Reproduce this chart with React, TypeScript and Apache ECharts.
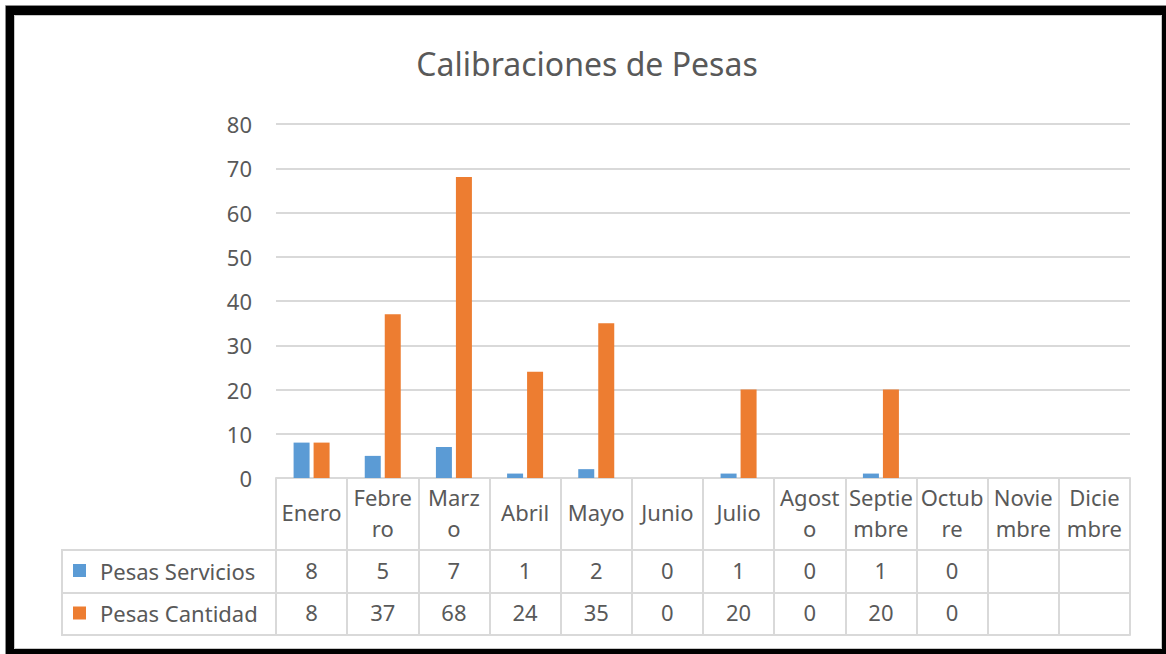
import React, { useEffect, useRef } from "react";
import * as echarts from "echarts";

const titleText = "Calibraciones de Pesas";
const months = ["Enero", "Febrero", "Marzo", "Abril", "Mayo", "Junio", "Julio", "Agosto", "Septiembre", "Octubre", "Noviembre", "Diciembre"];
const monthTickLabels = ["Enero", "Febre\nro", "Marz\no", "Abril", "Mayo", "Junio", "Julio", "Agost\no", "Septie\nmbre", "Octub\nre", "Novie\nmbre", "Dicie\nmbre"];
const seriesNames = ["Pesas Servicios", "Pesas Cantidad"];
const servicios: (number | null)[] = [8, 5, 7, 1, 2, 0, 1, 0, 1, 0, null, null];
const cantidad: (number | null)[] = [8, 37, 68, 24, 35, 0, 20, 0, 20, 0, null, null];
const yMin = 0;
const yMax = 80;
const yInterval = 10;

const FONT = "Noto Sans";
const TXT = "#595959";
const GRID_C = "#d9d9d9";
const BLUE = "#5b9bd5";
const ORANGE = "#ed7d31";

export default function App() {
  const ref = useRef<HTMLDivElement>(null);
  useEffect(() => {
    if (!ref.current) return;
    const chart = echarts.init(ref.current, undefined, { renderer: "svg" });
    const gridLeft = 276;
    const gridRight = 1130;
    const gridTop = 124;
    const axisY = 478;
    const row1 = 550;
    const row2 = 593;
    const row3 = 635;
    const legendLeft = 62;
    const lineStyle = { color: GRID_C, width: 2 };
    const valFmt = (arr: (number | null)[]) => (_v: string, i: number) =>
      arr[i] == null ? "" : String(arr[i]);

    chart.setOption({
      animation: false,
      backgroundColor: "#ffffff",
      textStyle: { fontFamily: FONT },
      title: {
        text: titleText,
        left: 587,
        top: 47,
        textAlign: "center",
        padding: 0,
        textStyle: { fontSize: 32, fontWeight: "normal", color: TXT, fontFamily: FONT },
      },
      legend: [
        {
          data: [seriesNames[0]],
          left: 73,
          top: row1 + (row2 - row1) / 2 - 14,
          padding: 0,
          icon: "rect",
          itemWidth: 13,
          itemHeight: 13,
          selectedMode: false,
          textStyle: { fontSize: 22, color: TXT, lineHeight: 26, padding: [0, 0, 0, 9], fontFamily: FONT },
        },
        {
          data: [seriesNames[1]],
          left: 73,
          top: row2 + (row3 - row2) / 2 - 14,
          padding: 0,
          icon: "rect",
          itemWidth: 13,
          itemHeight: 13,
          selectedMode: false,
          textStyle: { fontSize: 22, color: TXT, lineHeight: 26, padding: [0, 0, 0, 9], fontFamily: FONT },
        },
      ],
      grid: { left: gridLeft, right: 1166 - gridRight, top: gridTop, bottom: 654 - axisY, containLabel: false },
      xAxis: [
        {
          type: "category",
          data: months,
          position: "bottom",
          axisLine: { show: true, lineStyle },
          axisTick: { show: true, length: row1 - axisY, interval: 0, lineStyle },
          axisLabel: {
            interval: 0,
            formatter: (_v: string, i: number) => monthTickLabels[i],
            fontSize: 22,
            color: TXT,
            lineHeight: 31,
            margin: (row1 - axisY) / 2 - 2,
            verticalAlign: "middle",
            fontFamily: FONT,
          },
        },
        {
          type: "category",
          data: months,
          position: "bottom",
          offset: row1 - axisY,
          axisLine: { show: true, lineStyle },
          axisTick: { show: true, length: row2 - row1, interval: 0, lineStyle },
          axisLabel: {
            interval: 0,
            formatter: valFmt(servicios),
            fontSize: 22,
            color: TXT,
            margin: (row2 - row1) / 2 - 2,
            verticalAlign: "middle",
            fontFamily: FONT,
          },
        },
        {
          type: "category",
          data: months,
          position: "bottom",
          offset: row2 - axisY,
          axisLine: { show: true, lineStyle },
          axisTick: { show: true, length: row3 - row2, interval: 0, lineStyle },
          axisLabel: {
            interval: 0,
            formatter: valFmt(cantidad),
            fontSize: 22,
            color: TXT,
            margin: (row3 - row2) / 2 - 2,
            verticalAlign: "middle",
            fontFamily: FONT,
          },
        },
        {
          type: "category",
          data: months,
          position: "bottom",
          offset: row3 - axisY,
          axisLine: { show: true, lineStyle },
          axisTick: { show: false },
          axisLabel: { show: false },
        },
      ],
      yAxis: {
        type: "value",
        min: yMin,
        max: yMax,
        interval: yInterval,
        axisLine: { show: false },
        axisTick: { show: false },
        axisLabel: { fontSize: 22, color: TXT, margin: 24, fontFamily: FONT },
        splitLine: { show: true, lineStyle },
      },
      series: [
        {
          name: seriesNames[0],
          type: "bar",
          xAxisIndex: 0,
          data: servicios,
          barWidth: 16,
          barGap: "25%",
          itemStyle: { color: BLUE },
        },
        {
          name: seriesNames[1],
          type: "bar",
          xAxisIndex: 0,
          data: cantidad,
          barWidth: 16,
          barGap: "25%",
          itemStyle: { color: ORANGE },
        },
      ],
      graphic: [
        { type: "line", shape: { x1: legendLeft, y1: row1, x2: gridLeft, y2: row1 }, style: { stroke: GRID_C, lineWidth: 2 } },
        { type: "line", shape: { x1: legendLeft, y1: row2, x2: gridLeft, y2: row2 }, style: { stroke: GRID_C, lineWidth: 2 } },
        { type: "line", shape: { x1: legendLeft, y1: row3, x2: gridLeft, y2: row3 }, style: { stroke: GRID_C, lineWidth: 2 } },
        { type: "line", shape: { x1: legendLeft, y1: row1 - 1, x2: legendLeft, y2: row3 + 1 }, style: { stroke: GRID_C, lineWidth: 2 } },
        // frame
        { type: "rect", shape: { x: 5.5, y: 5.5, width: 1170, height: 660 }, style: { fill: "none", stroke: "#8c8c8c", lineWidth: 1 } },
        { type: "rect", shape: { x: 6, y: 6, width: 8, height: 648 }, style: { fill: "#000" } },
        { type: "rect", shape: { x: 6, y: 6, width: 1160, height: 9 }, style: { fill: "#000" } },
        { type: "rect", shape: { x: 1162, y: 6, width: 4, height: 648 }, style: { fill: "#000" } },
        { type: "rect", shape: { x: 6, y: 649, width: 1160, height: 5 }, style: { fill: "#000" } },
        { type: "rect", shape: { x: 14.5, y: 15.5, width: 1147, height: 633 }, style: { fill: "none", stroke: "#c8c8c8", lineWidth: 1 } },
      ],
    });
    return () => chart.dispose();
  }, []);
  return (
    <div
      ref={ref}
      style={{ position: "fixed", left: 0, top: 0, width: 1166, height: 654, background: "#fff" }}
    />
  );
}
